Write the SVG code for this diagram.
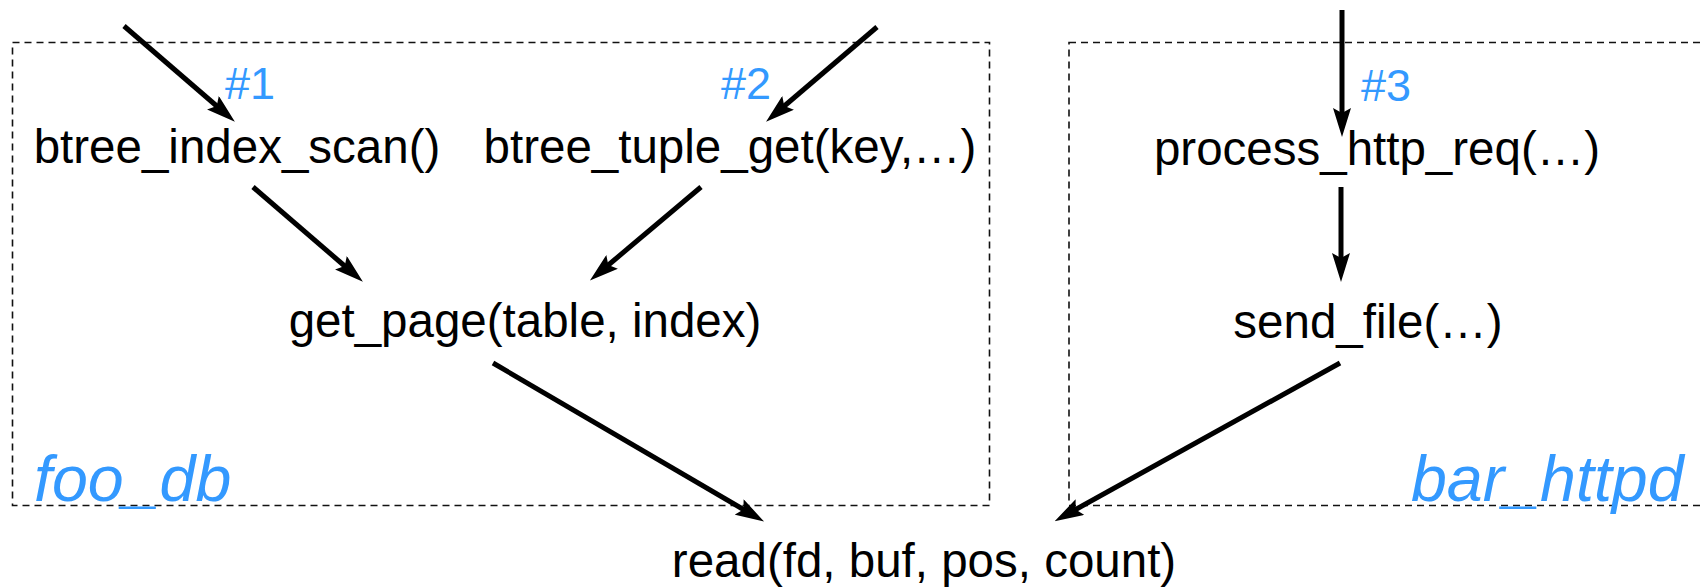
<svg xmlns="http://www.w3.org/2000/svg" width="1701" height="587" viewBox="0 0 1701 587">
  <style>
    .fn { font-family: "Liberation Sans", Arial, sans-serif; font-size: 47.5px; fill: #000; text-anchor: middle; }
    .step { font-family: "Liberation Sans", Arial, sans-serif; font-size: 45px; fill: #3399ff; }
    .proc { font-family: "Liberation Sans", Arial, sans-serif; font-size: 64.5px; font-style: italic; fill: #3399ff; }
    .box { fill: none; stroke: #111; stroke-width: 1.6; stroke-dasharray: 7 5; }
    .call { fill: none; stroke: #000; stroke-width: 5; marker-end: url(#head); }
  </style>
  <defs>
    <marker id="head" viewBox="0 0 29 18" refX="8" refY="9" markerWidth="29" markerHeight="18" markerUnits="userSpaceOnUse" orient="auto">
      <path d="M0,0 L29,9 L0,18 L5,9 Z" fill="#000"/>
    </marker>
  </defs>

  <rect width="1701" height="587" fill="#fff"/>

  <!-- process boundaries -->
  <g id="foo_db">
    <rect class="box" x="12.5" y="42.5" width="977" height="463"/>
    <text class="proc" x="34" y="501">foo_db</text>
  </g>
  <g id="bar_httpd">
    <rect class="box" x="1069" y="42.5" width="660" height="463"/>
    <text class="proc" x="1411" y="501">bar_httpd</text>
  </g>

  <!-- call sites -->
  <g id="btree_index_scan">
    <text class="fn" x="237" y="163">btree_index_scan()</text>
  </g>
  <g id="btree_tuple_get">
    <text class="fn" x="730" y="163">btree_tuple_get(key,…)</text>
  </g>
  <g id="process_http_req">
    <text class="fn" x="1377" y="165">process_http_req(…)</text>
  </g>
  <g id="get_page">
    <text class="fn" x="525" y="337">get_page(table, index)</text>
  </g>
  <g id="send_file">
    <text class="fn" x="1368" y="338">send_file(…)</text>
  </g>
  <g id="read">
    <text class="fn" x="924" y="577">read(fd, buf, pos, count)</text>
  </g>

  <!-- entry labels -->
  <g id="entry_labels">
    <text class="step" x="225" y="99">#1</text>
    <text class="step" x="721" y="99">#2</text>
    <text class="step" x="1361" y="101">#3</text>
  </g>

  <!-- call edges (each line stops 21px short of the arrow tip) -->
  <g id="connectors">
    <line class="call" x1="124" y1="26" x2="219" y2="108"/>
    <line class="call" x1="877" y1="27" x2="782" y2="108"/>
    <line class="call" x1="1342" y1="10" x2="1342" y2="116"/>
    <line class="call" x1="253" y1="187" x2="347" y2="268"/>
    <line class="call" x1="701" y1="187" x2="606" y2="267"/>
    <line class="call" x1="1341" y1="187" x2="1341" y2="261"/>
    <line class="call" x1="493" y1="363" x2="746" y2="511"/>
    <line class="call" x1="1340" y1="363" x2="1073" y2="511"/>
  </g>
</svg>
